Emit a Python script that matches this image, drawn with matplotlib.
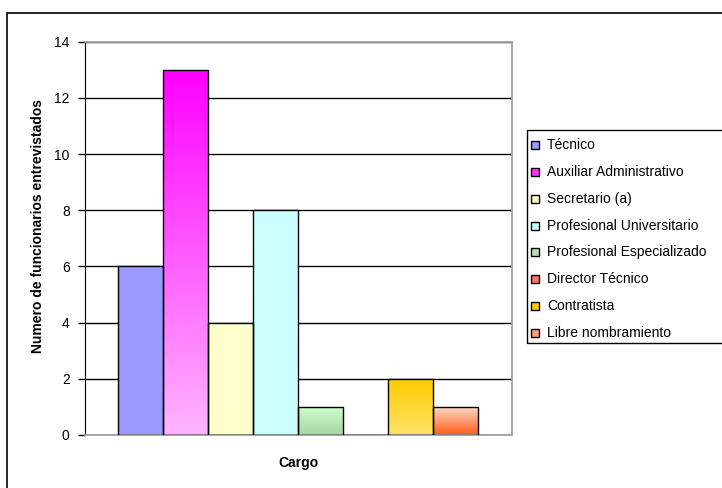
import numpy as np
import matplotlib.pyplot as plt
from matplotlib.colors import to_rgb
from matplotlib.patches import Rectangle

plt.rcParams['font.family'] = ['Liberation Sans', 'DejaVu Sans']

# Personal entrevistado por cargo
cargos = ['Técnico', 'Auxiliar Administrativo', 'Secretario (a)',
          'Profesional Universitario', 'Profesional Especializado',
          'Director Técnico', 'Contratista', 'Libre nombramiento']
funcionarios = [6, 13, 4, 8, 1, 0, 2, 1]

# color arriba / abajo de cada barra (degradado vertical)
color_arriba = ['#9999FF', '#FF00FF', '#FFFFCC', '#CCFFFF',
                '#CCFFCC', '#FF8080', '#FFCC00', '#FFDCCB']
color_abajo = ['#9999FF', '#FFB3FF', '#FFFFCC', '#CCFFFF',
               '#A8D5A8', '#FF6060', '#FFE26A', '#FF5E1A']
color_leyenda = ['#9999FF', '#FF33FF', '#FFFFCC', '#CCFFFF',
                 '#B8E0B8', '#FF7070', '#FFCC00', '#FFA07A']

W, H = 722, 488


def px(x, y):
    # pixeles (desde arriba a la izquierda) -> fraccion de la figura
    return x / W, 1 - y / H


fig = plt.figure(figsize=(W / 100, H / 100), dpi=100)

# marco exterior del grafico
fig.patches.append(Rectangle(px(7, 500), 730 / W, 487 / H, transform=fig.transFigure,
                             fill=False, edgecolor='black', linewidth=1.2))

left, right, top, bottom = 85, 512, 41.7, 435
ax = fig.add_axes([left / W, 1 - bottom / H, (right - left) / W, (bottom - top) / H])

x = np.arange(len(cargos))
bars = ax.bar(x, funcionarios, width=1.0, facecolor='none',
              edgecolor='black', linewidth=1.0, zorder=3)

for bar, c1, c2 in zip(bars, color_arriba, color_abajo):
    h = bar.get_height()
    if h == 0:
        continue
    t = np.linspace(0, 1, 64)[:, None]
    grad = (1 - t) * np.array(to_rgb(c1)) + t * np.array(to_rgb(c2))
    x0 = bar.get_x()
    im = ax.imshow(grad[:, None, :], extent=(x0, x0 + bar.get_width(), 0, h),
                   origin='upper', aspect='auto', zorder=2.5, interpolation='bilinear')
    im.set_clip_path(bar)

ax.set_xlim(-0.5 - 0.733, len(cargos) - 0.5 + 0.755)
ax.set_ylim(0, 14)
ax.set_yticks(range(0, 15, 2))
ax.set_xticks([])
ax.yaxis.grid(True, color='black', linewidth=1.0)
ax.set_axisbelow(True)

for s in ['top', 'right', 'bottom']:
    ax.spines[s].set_color('#a0a0a0')
    ax.spines[s].set_linewidth(1.3)
ax.spines['left'].set_color('black')
ax.tick_params(axis='y', direction='out', length=5, width=1, pad=6,
               labelsize=10, colors='black')

fig.text(*px(38, 226), 'Numero de funcionarios entrevistados', rotation=90,
         fontsize=10, fontweight='bold', ha='center', va='center')
fig.text(*px(298, 463), 'Cargo', fontsize=10, fontweight='bold',
         ha='center', va='center')

# leyenda
lx0, ly0, ly1 = 527, 130, 343
fig.patches.append(Rectangle(px(lx0, ly1), 210 / W, (ly1 - ly0) / H,
                             transform=fig.transFigure, fill=False,
                             edgecolor='black', linewidth=1.0))
paso = (333 - 145) / 7
for i, (nombre, col) in enumerate(zip(cargos, color_leyenda)):
    yc = 145 + i * paso
    fig.patches.append(Rectangle(px(531, yc + 4), 8 / W, 8 / H,
                                 transform=fig.transFigure, facecolor=col,
                                 edgecolor='black', linewidth=1.0))
    fig.text(*px(547, yc), nombre, fontsize=10, ha='left', va='center')

fig.savefig('out.png', dpi=100)
